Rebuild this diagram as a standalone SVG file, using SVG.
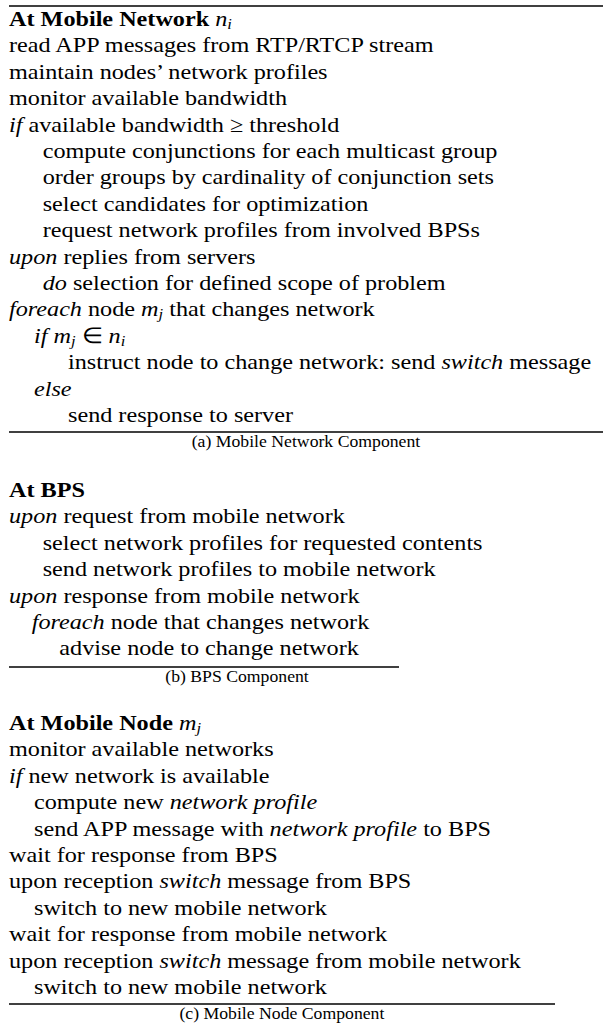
<svg xmlns="http://www.w3.org/2000/svg" width="603" height="1024" viewBox="0 0 603 1024">
  <style>
    .b { font-weight: bold; }
    .i { font-style: italic; }
    .sub { font-style: italic; font-size: 10.9px; }
    .cap { font-size: 11.7px; text-anchor: middle; }
    .rule { stroke: #000; stroke-width: 1.3; }
  </style>

  <!-- horizontal rules framing the three listings -->
  <g id="rules">
    <line class="rule" x1="9" y1="6" x2="603" y2="6"/>
    <line class="rule" x1="9" y1="432" x2="603" y2="432"/>
    <line class="rule" x1="9" y1="667" x2="399" y2="667"/>
    <line class="rule" x1="9" y1="1004" x2="555" y2="1004"/>
  </g>

  <!-- listings: 16px type scaled up, slightly wider than tall -->
  <g transform="scale(1.5125 1.375)" font-family="'Liberation Serif', 'Times New Roman', serif" font-size="16" fill="#000">
    <g id="mobile-network">
      <text x="5.95" y="18.91"><tspan class="b">At Mobile Network </tspan><tspan class="i">n</tspan><tspan class="sub" dy="2.2">i</tspan></text>
      <text x="5.95" y="38.11">read APP messages from RTP/RTCP stream</text>
      <text x="5.95" y="57.31">maintain nodes’ network profiles</text>
      <text x="5.95" y="76.51">monitor available bandwidth</text>
      <text x="5.95" y="95.71"><tspan class="i">if</tspan> available bandwidth ≥ threshold</text>
      <text x="28.23" y="114.91">compute conjunctions for each multicast group</text>
      <text x="28.23" y="134.11">order groups by cardinality of conjunction sets</text>
      <text x="28.23" y="153.31">select candidates for optimization</text>
      <text x="28.23" y="172.51">request network profiles from involved BPSs</text>
      <text x="5.95" y="191.71"><tspan class="i">upon</tspan> replies from servers</text>
      <text x="28.23" y="210.91"><tspan class="i">do</tspan> selection for defined scope of problem</text>
      <text x="5.95" y="230.11"><tspan class="i">foreach</tspan> node <tspan class="i">m</tspan><tspan class="sub" dy="2.2">j</tspan><tspan dy="-2.2"> that changes network</tspan></text>
      <text x="22.48" y="249.31"><tspan class="i">if</tspan> <tspan class="i">m</tspan><tspan class="sub" dy="2.2">j</tspan><tspan dy="-2.2"> ∈ </tspan><tspan class="i">n</tspan><tspan class="sub" dy="2.2">i</tspan></text>
      <text x="44.96" y="268.51">instruct node to change network: send <tspan class="i">switch</tspan> message</text>
      <text x="22.48" y="287.71"><tspan class="i">else</tspan></text>
      <text x="44.96" y="306.91">send response to server</text>
      <text class="cap" x="202.3" y="325.1">(a) Mobile Network Component</text>
    </g>

    <g id="bps">
      <text x="5.95" y="361.45"><tspan class="b">At BPS</tspan></text>
      <text x="5.95" y="380.65"><tspan class="i">upon</tspan> request from mobile network</text>
      <text x="28.23" y="399.85">select network profiles for requested contents</text>
      <text x="28.23" y="419.05">send network profiles to mobile network</text>
      <text x="5.95" y="438.25"><tspan class="i">upon</tspan> response from mobile network</text>
      <text x="20.96" y="457.45"><tspan class="i">foreach</tspan> node that changes network</text>
      <text x="39.21" y="476.65">advise node to change network</text>
      <text class="cap" x="156.7" y="496">(b) BPS Component</text>
    </g>

    <g id="mobile-node">
      <text x="5.95" y="530.91"><tspan class="b">At Mobile Node </tspan><tspan class="i">m</tspan><tspan class="sub" dy="2.2">j</tspan></text>
      <text x="5.95" y="550.11">monitor available networks</text>
      <text x="5.95" y="569.31"><tspan class="i">if</tspan> new network is available</text>
      <text x="22.48" y="588.51">compute new <tspan class="i">network profile</tspan></text>
      <text x="22.48" y="607.71">send APP message with <tspan class="i">network profile</tspan> to BPS</text>
      <text x="5.95" y="626.91">wait for response from BPS</text>
      <text x="5.95" y="646.11">upon reception <tspan class="i">switch</tspan> message from BPS</text>
      <text x="22.48" y="665.31">switch to new mobile network</text>
      <text x="5.95" y="684.51">wait for response from mobile network</text>
      <text x="5.95" y="703.71">upon reception <tspan class="i">switch</tspan> message from mobile network</text>
      <text x="22.48" y="722.91">switch to new mobile network</text>
      <text class="cap" x="186.4" y="741.1">(c) Mobile Node Component</text>
    </g>
  </g>
</svg>
